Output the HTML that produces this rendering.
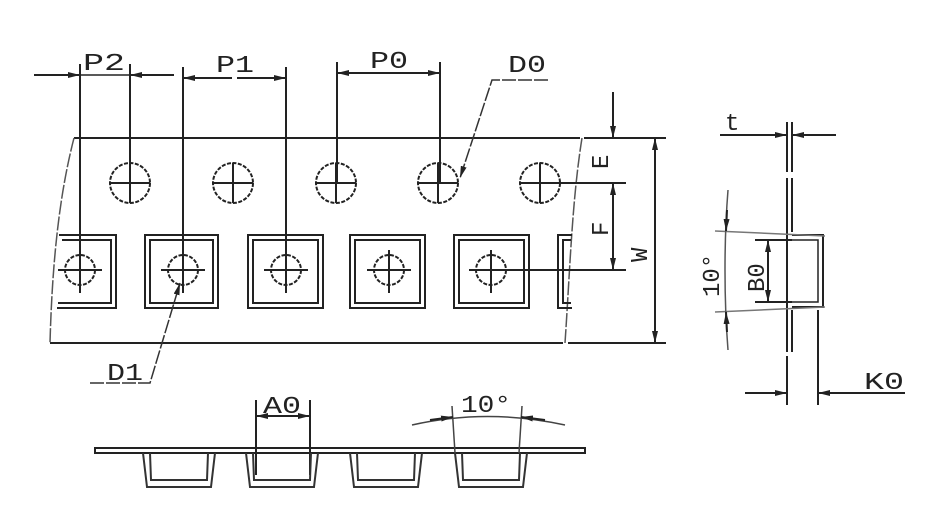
<!DOCTYPE html>
<html><head><meta charset="utf-8"><style>
html,body{margin:0;padding:0;background:#fff;}
svg{display:block;}
text{font-family:"Liberation Mono","DejaVu Sans Mono",monospace;fill:#222;}
</style></head><body>
<svg width="950" height="518" viewBox="0 0 950 518" xmlns="http://www.w3.org/2000/svg">
<defs>
<marker id="a" viewBox="0 0 12 6" refX="12" refY="3" markerWidth="12" markerHeight="6" markerUnits="userSpaceOnUse" orient="auto"><path d="M0,0L12,3L0,6z" fill="#222"/></marker>
</defs>
<g stroke="#222" stroke-width="2" fill="none">
<line x1="34" y1="75" x2="80" y2="75" marker-end="url(#a)"/>
<line x1="174" y1="75" x2="130" y2="75" marker-end="url(#a)"/>
<line x1="80" y1="75" x2="130" y2="75" stroke-width="1.5"/>
<line x1="232" y1="78" x2="183" y2="78" marker-end="url(#a)"/>
<line x1="237" y1="78" x2="286" y2="78" marker-end="url(#a)"/>
<line x1="388" y1="73" x2="337" y2="73" marker-end="url(#a)"/>
<line x1="388" y1="73" x2="440" y2="73" marker-end="url(#a)"/>
<line x1="80" y1="64" x2="80" y2="293"/>
<line x1="130" y1="64" x2="130" y2="183"/>
<line x1="183" y1="67" x2="183" y2="270"/>
<line x1="286" y1="67" x2="286" y2="270"/>
<line x1="337" y1="62" x2="337" y2="183"/>
<line x1="440" y1="62" x2="440" y2="183"/>
<line x1="74" y1="138" x2="580" y2="138"/>
<line x1="584" y1="138" x2="666" y2="138"/>
<line x1="50" y1="343" x2="563" y2="343"/>
<line x1="568" y1="343" x2="666" y2="343"/>
</g>
<path d="M74,138 C58,200 52,270 50,343" stroke="#555" stroke-width="1.5" fill="none" stroke-dasharray="14,2"/>
<path d="M582,138 C572,200 570,270 565,343" stroke="#555" stroke-width="1.5" fill="none" stroke-dasharray="14,2"/>
<g stroke="#222" fill="none">
<g stroke-width="2" stroke-dasharray="4,1.5">
<circle cx="130" cy="183" r="20"/><circle cx="233" cy="183" r="20"/><circle cx="336" cy="183" r="20"/><circle cx="438" cy="183" r="20"/><circle cx="540" cy="183" r="20"/>
</g>
<g stroke-width="2">
<line x1="110" y1="183" x2="150" y2="183"/><line x1="130" y1="163" x2="130" y2="203"/>
<line x1="213" y1="183" x2="253" y2="183"/><line x1="233" y1="163" x2="233" y2="203"/>
<line x1="316" y1="183" x2="356" y2="183"/><line x1="336" y1="163" x2="336" y2="203"/>
<line x1="418" y1="183" x2="458" y2="183"/><line x1="438" y1="163" x2="438" y2="203"/>
<line x1="520" y1="183" x2="626" y2="183"/><line x1="540" y1="163" x2="540" y2="203"/>
</g>
</g>
<g stroke="#222" stroke-width="2" fill="none">
<path d="M59,235 H116 V308 H57"/><path d="M62,240 H111 V303 H58"/>
<rect x="145" y="235" width="73" height="73"/><rect x="150" y="240" width="63" height="63"/>
<rect x="248" y="235" width="75" height="73"/><rect x="253" y="240" width="65" height="63"/>
<rect x="350" y="235" width="75" height="73"/><rect x="355" y="240" width="65" height="63"/>
<rect x="454" y="235" width="75" height="73"/><rect x="459" y="240" width="65" height="63"/>
<path d="M572,235 H558 V308 H572"/><path d="M571,240 H563 V303 H571"/>
</g>
<g stroke="#222" fill="none">
<g stroke-width="2" stroke-dasharray="4,1.5">
<circle cx="80" cy="270" r="15"/><circle cx="183" cy="270" r="15"/><circle cx="286" cy="270" r="15"/><circle cx="389" cy="270" r="15"/><circle cx="491" cy="270" r="15"/>
</g>
<g stroke-width="2">
<line x1="58" y1="270" x2="102" y2="270"/><line x1="80" y1="250" x2="80" y2="293"/>
<line x1="161" y1="270" x2="205" y2="270"/><line x1="183" y1="250" x2="183" y2="293"/>
<line x1="264" y1="270" x2="308" y2="270"/><line x1="286" y1="250" x2="286" y2="293"/>
<line x1="367" y1="270" x2="411" y2="270"/><line x1="389" y1="250" x2="389" y2="293"/>
<line x1="469" y1="270" x2="626" y2="270"/><line x1="491" y1="250" x2="491" y2="293"/>
</g>
</g>
<path d="M90,383 H150 L180,283" stroke="#333" stroke-width="1.5" fill="none" stroke-dasharray="14,2" marker-end="url(#a)"/>
<path d="M548,80 H492 L460,178" stroke="#333" stroke-width="1.5" fill="none" stroke-dasharray="14,2" marker-end="url(#a)"/>
<g stroke="#222" stroke-width="2" fill="none">
<line x1="613" y1="92" x2="613" y2="138" marker-end="url(#a)"/>
<line x1="613" y1="226" x2="613" y2="183" marker-end="url(#a)"/>
<line x1="613" y1="226" x2="613" y2="270" marker-end="url(#a)"/>
<line x1="655" y1="240" x2="655" y2="138" marker-end="url(#a)"/>
<line x1="655" y1="240" x2="655" y2="343" marker-end="url(#a)"/>
</g>
<g stroke="#222" stroke-width="2" fill="none">
<line x1="720" y1="135" x2="787" y2="135" marker-end="url(#a)"/>
<line x1="836" y1="135" x2="792" y2="135" marker-end="url(#a)"/>
<line x1="787" y1="122" x2="787" y2="172"/><line x1="792" y1="122" x2="792" y2="172"/>
<line x1="787" y1="178" x2="787" y2="352"/><line x1="792" y1="178" x2="792" y2="232"/>
<line x1="792" y1="310" x2="792" y2="352"/>
<path d="M792,235 H823 V307 H792"/>
<path d="M792,240 H818 V302 H792" stroke-width="1.5"/>
<line x1="755" y1="240" x2="792" y2="240"/><line x1="755" y1="302" x2="792" y2="302"/>
<line x1="768" y1="271" x2="768" y2="240" marker-end="url(#a)"/>
<line x1="768" y1="271" x2="768" y2="302" marker-end="url(#a)"/>
<line x1="787" y1="356" x2="787" y2="405"/><line x1="818" y1="310" x2="818" y2="405"/>
<line x1="745" y1="393" x2="787" y2="393" marker-end="url(#a)"/>
<line x1="905" y1="393" x2="818" y2="393" marker-end="url(#a)"/>
</g>
<g stroke="#777" stroke-width="1.5" fill="none">
<line x1="715" y1="231" x2="825" y2="236"/>
<line x1="715" y1="312" x2="825" y2="307"/>
</g>
<path d="M728,190 C724,240 724,300 728,350" stroke="#555" stroke-width="1.5" fill="none"/>
<line x1="727" y1="210" x2="726" y2="231" stroke="#222" stroke-width="2" marker-end="url(#a)"/>
<line x1="727" y1="332" x2="726" y2="312" stroke="#222" stroke-width="2" marker-end="url(#a)"/>
<g stroke="#222" stroke-width="2" fill="none">
<rect x="95" y="448" width="490" height="5"/>
<line x1="256" y1="400" x2="256" y2="475"/><line x1="310" y1="400" x2="310" y2="475"/>
<line x1="283" y1="416" x2="256" y2="416" marker-end="url(#a)"/>
<line x1="283" y1="416" x2="310" y2="416" marker-end="url(#a)"/>
</g>
<g stroke="#333" stroke-width="2" fill="none">
<path d="M143,453 L147,487 H211 L215,453"/><path d="M150,453 L151,480 H207 L208,453"/>
<path d="M246,453 L250,487 H314 L318,453"/><path d="M253,453 L254,480 H310 L311,453"/>
<path d="M350,453 L354,487 H418 L422,453"/><path d="M357,453 L358,480 H414 L415,453"/>
<path d="M455,453 L459,487 H523 L527,453"/><path d="M462,453 L463,480 H519 L520,453"/>
</g>
<g stroke="#444" stroke-width="1.5" fill="none">
<line x1="452" y1="406" x2="455" y2="453"/><line x1="522" y1="406" x2="519" y2="453"/>
<path d="M412,425 Q487,408 565,425"/>
</g>
<line x1="430" y1="420" x2="453" y2="417" stroke="#222" stroke-width="2" marker-end="url(#a)"/>
<line x1="545" y1="420" x2="521" y2="417" stroke="#222" stroke-width="2" marker-end="url(#a)"/>
<g font-size="24">
<text x="83" y="70" textLength="42" lengthAdjust="spacingAndGlyphs">P2</text>
<text x="216" y="72" textLength="38" lengthAdjust="spacingAndGlyphs">P1</text>
<text x="370" y="68" textLength="38" lengthAdjust="spacingAndGlyphs">P0</text>
<text x="508" y="72" textLength="38" lengthAdjust="spacingAndGlyphs">D0</text>
<text x="107" y="380" textLength="36" lengthAdjust="spacingAndGlyphs">D1</text>
<text x="263" y="413" textLength="38" lengthAdjust="spacingAndGlyphs">A0</text>
<text x="461" y="412" textLength="50" lengthAdjust="spacingAndGlyphs">10°</text>
<text x="725" y="130">t</text>
<text x="864" y="389" textLength="40" lengthAdjust="spacingAndGlyphs">K0</text>
<text transform="translate(608,169) rotate(-90)">E</text>
<text transform="translate(608,236) rotate(-90)">F</text>
<text transform="translate(647,262) rotate(-90)">W</text>
<text transform="translate(764,292) rotate(-90)">B0</text>
<text transform="translate(719,297) rotate(-90)">10°</text>
</g>
</svg>
</body></html>
